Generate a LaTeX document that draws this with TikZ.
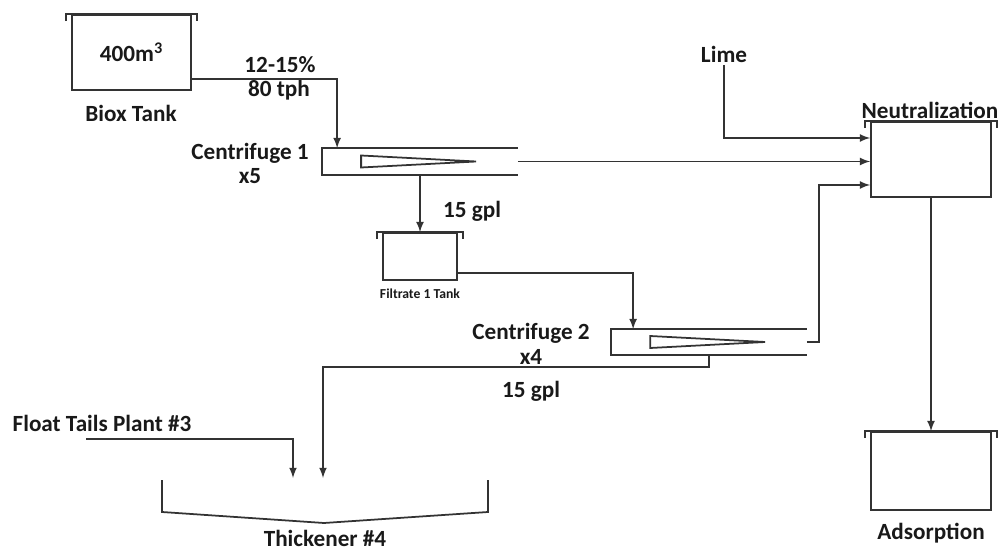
\documentclass[tikz,border=0pt]{standalone}
\usepackage{fontspec}
\setmainfont{Carlito}
\usetikzlibrary{arrows,calc,positioning}
\tikzset{>=latex}
\def\ux{0.02cm}
\def\uy{-0.02cm}
\tikzset{
  tank/.style n args={2}{draw, inner sep=0pt, minimum width=#1*\ux, minimum height=#2*\ux},
  cfg/.style n args={2}{inner sep=0pt, minimum width=#1*\ux, minimum height=#2*\ux},
  lbl/.style={inner sep=1pt, text=black!90, font=\bfseries\fontsize{13.2}{15}\selectfont},
  smalllbl/.style={inner sep=1pt, text=black!90, font=\bfseries\fontsize{7.8}{9}\selectfont}
}

\begin{document}
\begin{tikzpicture}[x=\ux,y=\uy, line width=1pt, draw=black!80]
		\useasboundingbox (0,0) rectangle (1000,553);

		% vessels
		\node[tank={119}{75}, lbl] (biox) at (131.5,52.5) {400m\textsuperscript{3}};
		\node[tank={74}{47}] (filt) at (420,256.5) {};
		\node[tank={120}{75}] (neut) at (931,159.5) {};
		\node[tank={120}{78}] (ads) at (931,471) {};
		\foreach \t in {biox,filt,neut,ads}{
			\draw ($(\t.north west)+(-5,7)$) -- ($(\t.north west)+(-5,0)$)
			  -- ($(\t.north east)+(5,0)$) -- ++(0,7);
		}

		% centrifuges
		\node[cfg={194}{25}] (c1) at (420,161.5) {};
		\node[cfg={194}{24}] (c2) at (709,342) {};
		\foreach \c in {c1,c2}{
			\draw (\c.north east) -- (\c.north west) -- (\c.south west) -- (\c.south east);
			\draw ($(\c.west)+(39,-6)$) -- ++(0,12) -- ($(\c.west)+(154,0)$) -- cycle;
		}

		% thickener
		\coordinate (tin1) at (293,478);
		\coordinate (tin2) at (323,478);
		\draw (162,480) -- (162,512) -- (324,523) -- (488,512) -- (488,480);

		% labels
		\node[lbl] (bioxlbl) at (131,113) {Biox Tank};
		\node[lbl] (feed1) at (280,65) {12-15\%};
		\node[lbl] (feed2) at (279,90) {80 tph};
		\node[lbl] (c1lbl) at (250,153) {Centrifuge 1};
		\node[lbl] (c1num) at (250,176) {x5};
		\node[lbl] (gpl1) at (472,211) {15 gpl};
		\node[smalllbl] (filtlbl) at (420,294) {Filtrate 1 Tank};
		\node[lbl] (c2lbl) at (531,333) {Centrifuge 2};
		\node[lbl] (c2num) at (531,357) {x4};
		\node[lbl] (gpl2) at (531,391) {15 gpl};
		\node[lbl] (lime) at (724,54) {Lime};
		\node[lbl] (neutlbl) at (930,110) {Neutralization};
		\node[lbl] (float) at (102,423) {Float Tails Plant \#3};
		\node[lbl] (thicklbl) at (325,538) {Thickener \#4};
		\node[lbl] (adslbl) at (931,533) {Adsorption};

		% streams
		\coordinate (nin1) at (neut.west |- 0,138);
		\coordinate (nin3) at (neut.west |- 0,185);
		\coordinate (ftail) at (86,439);
		\draw[->] ($(biox.south east)+(0,-12)$) -| ($(c1.north west)+(15,0)$);
		\draw[->] (c1.south) -- (filt.north);
		\draw[->] (c1.east) -- (c1.east -| neut.west);
		\draw[->] ($(filt.south east)+(0,-8)$) -| ($(c2.north west)+(22,0)$);
		\draw[->] (c2.east) -- ++(12,0) |- (nin3);
		\draw[->] (c2.south) -- ++(0,12) -| (tin2);
		\draw[->] (ftail) -| (tin1);
		\draw[->] (lime.south) |- (nin1);
		\draw[->] (neut.south) -- (ads.north);
\end{tikzpicture}
\end{document}
